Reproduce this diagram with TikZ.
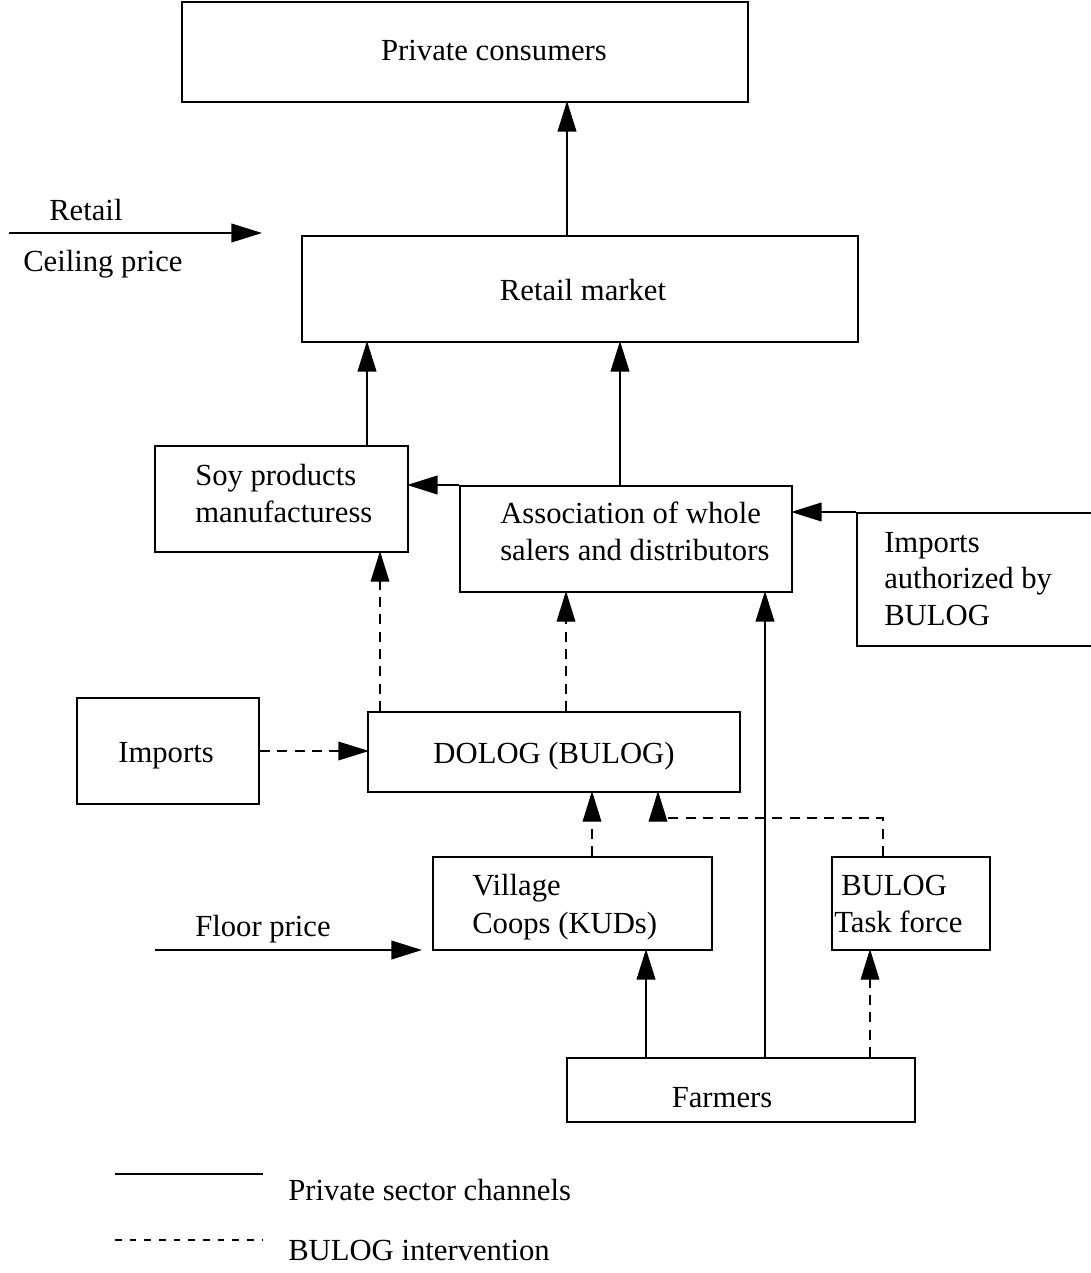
\documentclass[tikz,border=0pt]{standalone}
\usepackage{fontspec}
\setmainfont{Liberation Serif}
\usetikzlibrary{arrows.meta}
\tikzset{
  bx/.style n args={2}{draw, line width=1.5pt, minimum width=#1*0.75pt, minimum height=#2*0.75pt, inner sep=0pt},
  txt/.style={font=\fontsize{23}{27.75}\selectfont, inner sep=0pt, align=left},
  arr/.style={line width=1.5pt, shorten >=-1.5pt, -{Triangle[length=23pt,width=14pt]}},
  darr/.style={line width=1pt, shorten >=-1.5pt, dash pattern=on 7.5pt off 5.5pt, -{Triangle[length=23pt,width=14pt]}},
  sline/.style={line width=1.5pt},
  dline/.style={line width=1pt, dash pattern=on 5pt off 6pt},
}
\begin{document}
\begin{tikzpicture}[x=0.75pt,y=-0.75pt]
\useasboundingbox (0,0) rectangle (1090,1273);
% boxes
\node[bx={566}{100}] (cons) at (465,52) {};
\node[bx={556}{106}] (retail) at (580,289) {};
\node[bx={253}{106}] (soy) at (281.5,499) {};
\node[bx={332}{106}] (assoc) at (626,539) {};
\node[bx={240}{133}] (impa) at (977,579.5) {};
\node[bx={372}{80}] (dolog) at (554,752) {};
\node[bx={182}{106}] (imports) at (168,751) {};
\node[bx={279}{93}] (village) at (572.5,903.5) {};
\node[bx={158}{93}] (task) at (911,903.5) {};
\node[bx={348}{64}] (farmers) at (741,1090) {};
% texts
\node[txt, anchor=base] (tcons) at (494,61) {Private consumers};
\node[txt, anchor=base] (tretail) at (583,300) {Retail market};
\node[txt, anchor=base west] (tsoy1) at (195,485) {Soy products};
\node[txt, anchor=base west] (tsoy2) at (195,522) {manufacturess};
\node[txt, anchor=base west] (tas1) at (500,523) {Association of whole};
\node[txt, anchor=base west] (tas2) at (500,560) {salers and distributors};
\node[txt, anchor=base west] (tia1) at (884,552) {Imports};
\node[txt, anchor=base west] (tia2) at (884,588) {authorized by};
\node[txt, anchor=base west] (tia3) at (884,625) {BULOG};
\node[txt, anchor=base] (tdolog) at (554,763) {DOLOG (BULOG)};
\node[txt, anchor=base] (timports) at (166,762) {Imports};
\node[txt, anchor=base west] (tvil1) at (472,895) {Village};
\node[txt, anchor=base west] (tvil2) at (472,933) {Coops (KUDs)};
\node[txt, anchor=base west] (ttask1) at (841,895) {BULOG};
\node[txt, anchor=base west] (ttask2) at (834,932) {Task force};
\node[txt, anchor=base] (tfarm) at (722,1107) {Farmers};
\node[txt, anchor=base west] (tret) at (49,221) {Retail};
\node[txt, anchor=base west] (tceil) at (23,272) {Ceiling price};
\node[txt, anchor=base west] (tfloor) at (195,936) {Floor price};
\node[txt, anchor=base west] (tleg1) at (288,1200) {Private sector channels};
\node[txt, anchor=base west] (tleg2) at (288,1260) {BULOG intervention};
% x positions
\coordinate (X567) at (567,0);
\coordinate (X367) at (367,0);
\coordinate (X620) at (620,0);
\coordinate (X380) at (380,0);
\coordinate (X566) at (566,0);
\coordinate (X765) at (765,0);
\coordinate (X592) at (592,0);
\coordinate (X646) at (646,0);
\coordinate (X870) at (870,0);
\coordinate (X883) at (883,0);
\coordinate (X658) at (658,0);
\coordinate (bend) at (658,818);
% connectors
\draw[arr] (retail.north -| X567) -- (cons.south -| X567);
\draw[arr] (soy.north -| X367) -- (retail.south -| X367);
\draw[arr] (assoc.north -| X620) -- (retail.south -| X620);
\draw[arr] (assoc.north west) -- (soy.east |- assoc.north west);
\draw[arr] (impa.north west) -- (assoc.east |- impa.north west);
\draw[darr] (dolog.north -| X380) -- (soy.south -| X380);
\draw[darr] (dolog.north -| X566) -- (assoc.south -| X566);
\draw[darr] (imports.east) -- (dolog.west |- imports.east);
\draw[arr] (farmers.north -| X765) -- (assoc.south -| X765);
\draw[darr] (village.north -| X592) -- (dolog.south -| X592);
\draw[darr] (task.north -| X883) |- (bend) -- (dolog.south -| X658);
\draw[arr] (farmers.north -| X646) -- (village.south -| X646);
\draw[darr] (farmers.north -| X870) -- (task.south -| X870);
% price arrows
\coordinate (rs) at (9,233);
\coordinate (re) at (260,233);
\draw[arr] (rs) -- (re);
\coordinate (fs) at (155,950);
\coordinate (fe) at (420,950);
\draw[arr] (fs) -- (fe);
% legend
\coordinate (l1s) at (115,1174);
\coordinate (l1e) at (263,1174);
\draw[sline] (l1s) -- (l1e);
\coordinate (l2s) at (115,1240);
\coordinate (l2e) at (263,1240);
\draw[dline] (l2s) -- (l2e);
\end{tikzpicture}
\end{document}
